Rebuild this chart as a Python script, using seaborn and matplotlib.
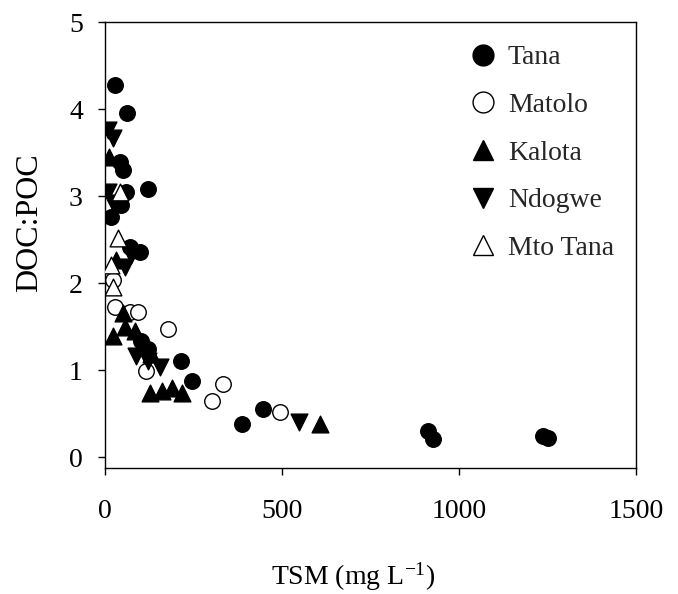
import matplotlib
matplotlib.use("Agg")
import matplotlib.pyplot as plt
import seaborn as sns
import pandas as pd
from matplotlib.lines import Line2D

# ---- data ----
tana_x = [28, 62, 42, 51, 122, 59, 45, 17, 71, 99, 102, 122, 215, 246, 387, 447, 912, 927, 1237, 1251]
tana_y = [4.28, 3.96, 3.39, 3.30, 3.08, 3.05, 2.90, 2.76, 2.41, 2.36, 1.33, 1.24, 1.10, 0.87, 0.38, 0.55, 0.30, 0.21, 0.24, 0.22]

matolo_x = [23, 28, 71, 93, 178, 116, 333, 302, 494]
matolo_y = [2.04, 1.72, 1.67, 1.67, 1.47, 0.99, 0.84, 0.64, 0.52]

kalota_x = [11, 31, 23, 51, 57, 85, 130, 127, 161, 189, 218, 607]
kalota_y = [3.45, 2.27, 1.39, 1.66, 1.49, 1.45, 1.18, 0.74, 0.76, 0.80, 0.74, 0.38]

ndogwe_x = [8, 23, 8, 23, 57, 73, 88, 122, 155, 548]
ndogwe_y = [3.76, 3.67, 3.05, 2.92, 2.18, 2.32, 1.16, 1.10, 1.04, 0.40]

mto_x = [42, 37, 17, 23]
mto_y = [3.05, 2.52, 2.21, 1.95]

series_names = ["Tana", "Matolo", "Kalota", "Ndogwe", "Mto Tana"]
x_ticks = [0, 500, 1000, 1500]
y_ticks = [0, 1, 2, 3, 4, 5]

sns.set_theme(style="white")
plt.rcParams["font.family"] = ["Liberation Serif", "DejaVu Serif"]
plt.rcParams["mathtext.fontset"] = "stix"

fig = plt.figure(figsize=(6.78, 5.94), dpi=100)
ax = fig.add_axes([105 / 678, 1 - 468 / 594, (636 - 105) / 678, (468 - 22) / 594])

styles = [
    (tana_x, tana_y, "o", "black", 125),
    (matolo_x, matolo_y, "o", "white", 125),
    (kalota_x, kalota_y, "^", "black", 145),
    (ndogwe_x, ndogwe_y, "v", "black", 145),
    (mto_x, mto_y, "^", "white", 145),
]
handles = []
for name, (xs, ys, mk, fc, sz) in zip(series_names, styles):
    df = pd.DataFrame({"x": xs, "y": ys})
    sns.scatterplot(data=df, x="x", y="y", marker=mk, s=sz, color=fc,
                    edgecolor="black", linewidth=1.0, ax=ax, legend=False, zorder=3)
    handles.append(Line2D([], [], linestyle="none", marker=mk, markersize=15,
                          markerfacecolor=fc, markeredgecolor="black",
                          markeredgewidth=1.0, label=name))

ax.set_xlim(0, 1500)
ax.set_ylim(-0.125, 5)
ax.set_xticks(x_ticks)
ax.set_yticks(y_ticks)
ax.tick_params(axis="both", which="both", direction="out", length=5, width=1,
               labelsize=20, color="black", labelcolor="black",
               top=False, right=False, bottom=True, left=True)
ax.tick_params(axis="x", pad=17)
ax.tick_params(axis="y", pad=11)
for sp in ax.spines.values():
    sp.set_visible(True)
    sp.set_color("black")
    sp.set_linewidth(1.0)

ax.set_xlabel("TSM (mg L$^{\\mathregular{-1}}$)", fontsize=20, color="black")
ax.xaxis.set_label_coords((353 - 105) / 531, (468 - 560) / 446)
ax.set_ylabel("DOC:POC", fontsize=23, color="black")
ax.yaxis.set_label_coords((44 - 105) / 531, (468 - 223) / 446)

leg = ax.legend(handles=handles, loc="upper right", bbox_to_anchor=(0.995, 0.992),
                frameon=False, fontsize=20, labelspacing=0.8, handletextpad=0.3,
                handlelength=1.2, borderaxespad=0.3)

fig.savefig("out.png", dpi=100)
